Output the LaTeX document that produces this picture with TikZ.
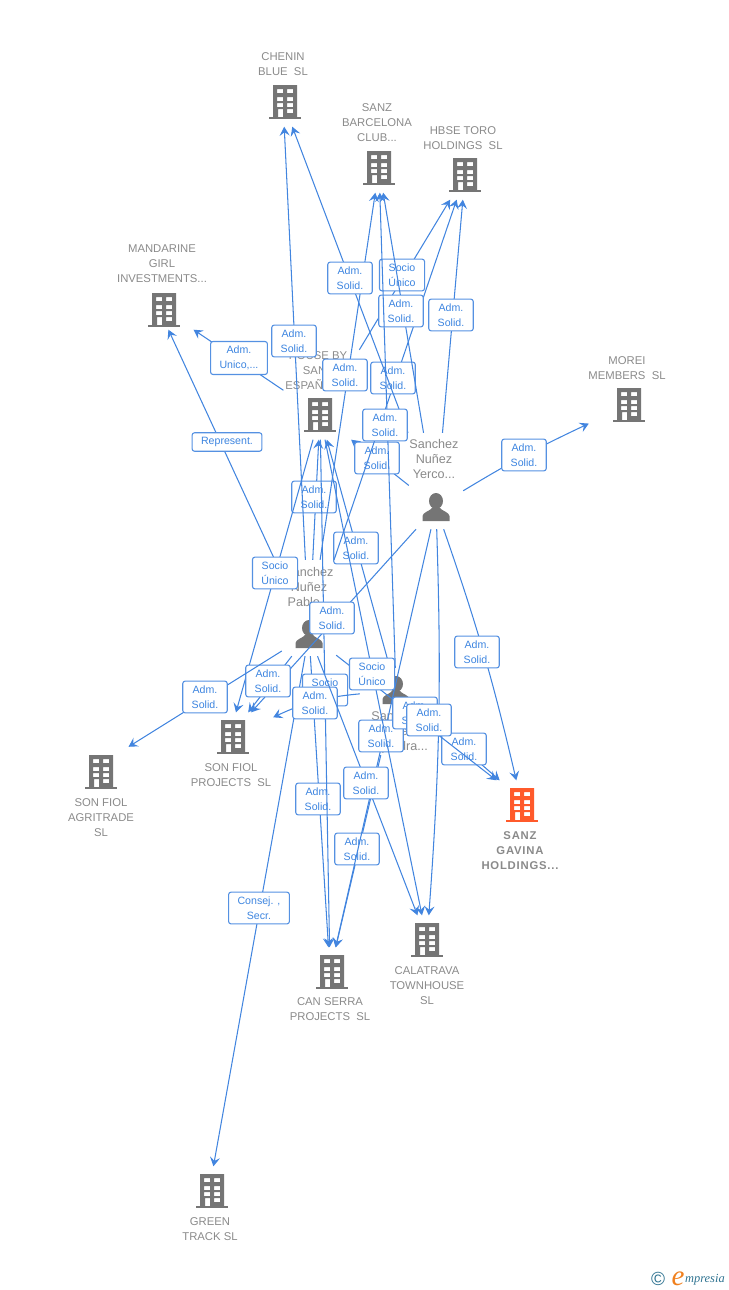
\documentclass[tikz,border=0pt]{standalone}
\usepackage{fontspec}
\usepackage{tikz}
\usetikzlibrary{arrows.meta}
\setmainfont{Liberation Sans}
\newfontfamily\spacedfont[LetterSpace=7]{Liberation Sans}
\newfontfamily\logofont{Liberation Serif}
\definecolor{linkblue}{HTML}{4285DF}
\definecolor{tagblue}{HTML}{3D85E0}
\definecolor{iconcol}{HTML}{757575}
\definecolor{namecol}{HTML}{8A8A8A}
\definecolor{maincol}{HTML}{FF5A2B}
\definecolor{logoteal}{HTML}{2F7391}
\definecolor{logoorange}{HTML}{F0801E}
\newcommand{\conn}[6][]{
  \draw[lnk,#1] (#2) to (#3);
  \node[tag] (tag#2#3) at (#4,#5) {#6};
}

\begin{document}
\begin{tikzpicture}[
      x=1pt, y=-1pt,
      bbox/.style={minimum width=80pt, minimum height=49pt, inner sep=0pt},
      pbox/.style={minimum width=#1, minimum height=44pt, inner sep=0pt},
      upbox/.style={minimum width=80pt, minimum height=#1, inner sep=0pt},
      lbl/.style={align=center, text=namecol, yshift=-1pt, font=\fontsize{11.3}{15}\selectfont},
      plbl/.style={align=center, text=namecol, font=\fontsize{12.6}{15}\selectfont},
      lnk/.style={draw=linkblue, line width=1.05pt,
        -{Stealth[length=9pt, width=10pt, inset=3.5pt]}},
      tag/.style={
        draw=linkblue!90, fill=white, rounded corners=2.5pt, line width=1.1pt,
        align=center, text=tagblue, font=\fontsize{10.6}{15}\selectfont,
        inner xsep=9pt, inner ysep=4.5pt
      },
      bldg/.pic={
        \path[pic actions, even odd rule] (-12,-17) rectangle (12,15)
          (-8,-13) rectangle (-2,-9) (2,-13) rectangle (8,-9)
          (-8,-5) rectangle (-2,-1) (2,-5) rectangle (8,-1)
          (-8,1) rectangle (-2,5) (2,1) rectangle (8,5)
          (-7,7) rectangle (-2,15) (2,7) rectangle (8,11);
        \path[pic actions] (-16,15) rectangle (16,17);
      },
      pers/.pic={
        \path[pic actions] (0,-6) ellipse (7 and 8);
        \path[pic actions] (-13.5,14) -- (-13.5,9) .. controls (-13,5) and (-6,4) .. (-4,1)
          -- (4,1) .. controls (6,4) and (13,5) .. (13.5,9) -- (13.5,14) -- cycle;
      }
    ]
      \useasboundingbox (0,0) rectangle (728,1290);

      \foreach \x/\y/\n/\ix/\iy in {283/102/chenin/285/102,379/168/barcelona/379/168,
          465/175/hbse/465/175,157/305/mandarine/164/310,629/405/morei/629/405,
          320/415/house/320/415,233/737/sonfiol/233/737,427/940/calatrava/427/940,
          330/972/canserra/332/972,209/1191/green/212/1191} {
        \node[bbox] (\n) at (\x,\y){};
        \pic[fill=iconcol] at (\ix,\iy) {bldg};
      }
      \node[bbox] (sonfiolin) at (229,737){};
      \node[bbox, minimum width=56pt, minimum height=34pt] (agritrade) at (101,764){};
      \pic[fill=iconcol] at (101,772) {bldg};
      \node[bbox] (gavina) at (522,805){};
      \node[bbox] (gavinain) at (528,805){};
      \pic[fill=maincol] at (gavina) {bldg};

      \foreach \x/\y/\n/\w in {436/507/yerco/54pt,309/634/pablo/54pt,396/690/third/72pt} {
        \node[pbox=\w] (\n) at (\x,\y){};
        \pic[fill=iconcol] at (\n) {pers};
      }
      \node[upbox=148pt] (yercoup) at (436,507){};
      \node[upbox=148pt] (pabloup) at (309,634){};
      \node[upbox=130pt] (thirddown) at (396,690){};
      \node[upbox=130pt] (houseup) at (320,415){};

      \node[lbl] (cheninname) at (283,63.5){CHENIN\\BLUE~ SL};
      \node[lbl] (barcelonaname) at (377,122){SANZ\\BARCELONA\\CLUB...};
      \node[lbl] (hbsename) at (463,137.5){HBSE TORO\\HOLDINGS~ SL};
      \node[lbl] (mandarinename) at (162,263){MANDARINE\\GIRL\\INVESTMENTS...};
      \node[lbl] (moreiname) at (627,367.5){MOREI\\MEMBERS~ SL};
      \node[lbl] (housename) at (318,369.5){HOUSE BY\\SANZ\\ESPAÑA~ SL};
      \node[lbl] (sonfiolname) at (231,774.5){SON FIOL\\PROJECTS~ SL};
      \node[lbl] (agritradename) at (101,817){SON FIOL\\AGRITRADE\\SL};
      \node[lbl] (calatravaname) at (427,985){CALATRAVA\\TOWNHOUSE\\SL};
      \node[lbl] (canserraname) at (330,1008.5){CAN SERRA\\PROJECTS~ SL};
      \node[lbl] (greenname) at (210,1228.5){GREEN\\TRACK SL};
      \node[lbl, font=\spacedfont\bfseries\fontsize{11.3}{15}\selectfont] (gavinaname)
        at (520,850){SANZ\\GAVINA\\HOLDINGS...};
      \node[plbl] (yerconame) at (434,459){Sanchez\\Nuñez\\Yerco...};
      \node[plbl] (pabloname) at (309,587){Sanchez\\Nuñez\\Pablo...};
      \node[plbl] (thirdname) at (396,732){Sanchez\\Nuñez\\Alejandra...};

      % oldest boxes first, the later lines run over them
      \conn{pabloup}{house}{314}{497}{Adm.\\Solid.}
      \conn{pabloup}{barcelona}{345}{375}{Adm.\\Solid.}
      \conn{yerco}{house}{377}{458}{Adm.\\Solid.}
      \conn{third}{house}{356}{548}{Adm.\\Solid.}
      \conn{pabloup}{hbse}{393}{378}{Adm.\\Solid.}
      \conn{houseup}{hbse}{402}{275}{Socio\\Único}
      \conn{yercoup}{chenin}{350}{278}{Adm.\\Solid.}
      \conn{yercoup}{barcelona}{401}{311}{Adm.\\Solid.}
      \conn{third}{barcelona}{385}{425}{Adm.\\Solid.}
      \conn{pabloup}{chenin}{294}{341}{Adm.\\Solid.}
      \conn{yercoup}{hbse}{451}{315}{Adm.\\Solid.}
      \conn{house}{mandarine}{239}{358}{Adm.\\Unico,...}
      \conn{pabloup}{mandarine}{227}{442}{Represent.}
      \conn{house}{sonfiolin}{275}{573}{Socio\\Único}
      \conn{pablo}{canserra}{318}{799}{Adm.\\Solid.}
      \conn{house}{canserra}{325}{690}{Socio\\Único}
      \conn{pablo}{green}{259}{908}{Consej. ,\\Secr.}
      \conn[bend right=10]{third}{sonfiol}{315}{703}{Adm.\\Solid.}
      \conn{thirddown}{canserra}{357}{849}{Adm.\\Solid.}
      \conn{yerco}{canserra}{381}{736}{Adm.\\Solid.}
      \conn{pablo}{calatrava}{366}{783}{Adm.\\Solid.}
      \conn{thirddown}{gavinain}{464}{749}{Adm.\\Solid.}
      \conn{pablo}{gavinain}{415}{713}{Adm.\\Solid.}
      \conn{house}{calatrava}{372}{674}{Socio\\Único}
      \conn{yerco}{sonfiolin}{332}{618}{Adm.\\Solid.}
      \conn{pablo}{sonfiolin}{268}{681}{Adm.\\Solid.}
      \conn{pablo}{agritrade}{205}{697}{Adm.\\Solid.}
      \conn[bend left=3]{yerco}{morei}{524}{455}{Adm.\\Solid.}
      \conn[bend left=3]{yerco}{gavina}{477}{652}{Adm.\\Solid.}
      \conn[bend left=3]{yerco}{calatrava}{429}{720}{Adm.\\Solid.}

      \node[text=logoteal, font=\fontsize{19}{19}\selectfont, inner sep=0pt] (logoc) at (658,1278.5){©};
      \node[text=logoorange, font=\logofont\itshape\fontsize{29}{29}\selectfont, anchor=base, inner sep=0pt] (logoe) at (678,1285){e};
      \node[text=logoteal, font=\logofont\itshape\fontsize{12.4}{12}\selectfont, anchor=base west, inner sep=0pt] (logot) at (685,1282){mpresia};
    \end{tikzpicture}
\end{document}
